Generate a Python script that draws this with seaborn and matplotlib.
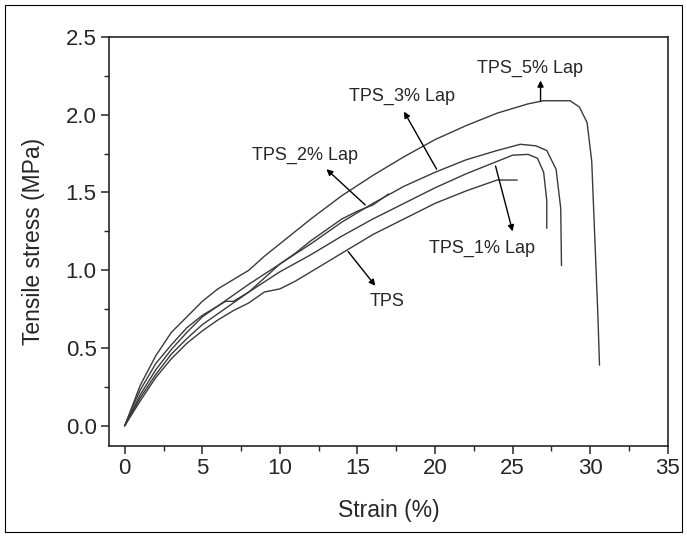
import matplotlib
matplotlib.use("Agg")
import matplotlib.pyplot as plt
from matplotlib.patches import Rectangle
from matplotlib.ticker import MultipleLocator, FormatStrFormatter
import pandas as pd
import seaborn as sns

# strain (%) / stress (MPa)
tps_x = [0, 0.5, 1, 2, 3, 4, 5, 6, 7, 8, 9, 10, 11, 12, 14, 16, 18, 20, 22, 24, 25.3]
tps_y = [0, 0.08, 0.16, 0.31, 0.43, 0.53, 0.61, 0.68, 0.74, 0.79, 0.86, 0.88, 0.93, 0.99, 1.11, 1.23, 1.33, 1.43, 1.51, 1.58, 1.58]

lap1_x = [0, 0.5, 1, 2, 3, 4, 5, 6, 7, 8, 10, 12, 14, 16, 18, 20, 22, 24, 25, 26, 26.6, 27.0, 27.2, 27.2]
lap1_y = [0, 0.09, 0.18, 0.33, 0.46, 0.56, 0.65, 0.72, 0.79, 0.86, 0.99, 1.1, 1.22, 1.33, 1.43, 1.53, 1.62, 1.70, 1.74, 1.745, 1.72, 1.63, 1.45, 1.27]

lap2_x = [0, 0.5, 1, 2, 3, 4, 5, 6, 6.5, 7, 8, 9, 10, 11, 12, 13, 14, 15, 16, 17]
lap2_y = [0, 0.12, 0.23, 0.4, 0.52, 0.63, 0.71, 0.77, 0.80, 0.80, 0.86, 0.95, 1.04, 1.11, 1.19, 1.26, 1.33, 1.38, 1.42, 1.49]

lap3_x = [0, 0.5, 1, 2, 3, 4, 5, 6, 7, 8, 10, 12, 14, 16, 18, 20, 22, 24, 25.5, 26.5, 27.2, 27.8, 28.1, 28.15]
lap3_y = [0, 0.1, 0.2, 0.36, 0.49, 0.6, 0.70, 0.77, 0.84, 0.91, 1.04, 1.17, 1.31, 1.43, 1.54, 1.63, 1.71, 1.77, 1.81, 1.80, 1.77, 1.65, 1.4, 1.03]

lap5_x = [0, 0.5, 1, 2, 3, 4, 5, 6, 7, 8, 9, 10, 12, 14, 16, 18, 20, 22, 24, 26, 27, 28.7, 29.3, 29.8, 30.1, 30.3, 30.5, 30.6]
lap5_y = [0, 0.13, 0.26, 0.45, 0.6, 0.7, 0.80, 0.88, 0.94, 1.0, 1.09, 1.17, 1.33, 1.48, 1.61, 1.73, 1.84, 1.93, 2.01, 2.07, 2.09, 2.09, 2.05, 1.95, 1.7, 1.2, 0.7, 0.39]

series = [
    ("TPS", tps_x, tps_y),
    ("TPS_1% Lap", lap1_x, lap1_y),
    ("TPS_2% Lap", lap2_x, lap2_y),
    ("TPS_3% Lap", lap3_x, lap3_y),
    ("TPS_5% Lap", lap5_x, lap5_y),
]

# label text position, arrow tail (on curve), arrow head
labels = [
    ("TPS_5% Lap", (26.1, 2.30), (26.8, 2.09), (26.8, 2.22)),
    ("TPS_3% Lap", (17.9, 2.12), (20.1, 1.65), (18.0, 2.02)),
    ("TPS_2% Lap", (11.6, 1.74), (15.5, 1.42), (13.0, 1.65)),
    ("TPS_1% Lap", (23.0, 1.14), (23.9, 1.67), (25.0, 1.25)),
    ("TPS", (16.9, 0.80), (14.4, 1.12), (16.15, 0.90)),
]

sns.set_style("ticks")
plt.rcParams["font.family"] = ["Liberation Sans", "DejaVu Sans"]

fig = plt.figure(figsize=(6.87, 5.36), dpi=100)
ax = fig.add_axes([0.159, 0.168, 0.813, 0.763])

for name, xs, ys in series:
    df = pd.DataFrame({"strain": xs, "stress": ys})
    sns.lineplot(data=df, x="strain", y="stress", ax=ax, color="#3a3a3a",
                 linewidth=1.0, sort=False, estimator=None)

for text, txy, tail, head in labels:
    ax.annotate("", xy=head, xytext=tail,
                arrowprops=dict(arrowstyle="-|>", color="black", lw=1.0,
                                mutation_scale=9, shrinkA=0, shrinkB=0))
    ax.text(txy[0], txy[1], text, ha="center", va="center", fontsize=13)

ax.set_xlim(-1, 35)
ax.set_ylim(-0.13, 2.5)
ax.xaxis.set_major_locator(MultipleLocator(5))
ax.xaxis.set_minor_locator(MultipleLocator(2.5))
ax.yaxis.set_major_locator(MultipleLocator(0.5))
ax.yaxis.set_minor_locator(MultipleLocator(0.25))
ax.tick_params(which="major", direction="out", length=6, width=1.1, labelsize=16, pad=3)
ax.tick_params(which="minor", direction="out", length=3.5, width=1.0)
ax.yaxis.set_major_formatter(FormatStrFormatter("%.1f"))
for s in ax.spines.values():
    s.set_visible(True)
    s.set_linewidth(1.2)
ax.set_xlabel("Strain (%)", fontsize=16.5, labelpad=14)
ax.set_ylabel("Tensile stress (MPa)", fontsize=16.5, labelpad=15)

fig.patches.append(Rectangle((0.008, 0.008), 0.985, 0.982, transform=fig.transFigure,
                             fill=False, edgecolor="black", linewidth=0.8))

fig.savefig("out.png", dpi=100)
